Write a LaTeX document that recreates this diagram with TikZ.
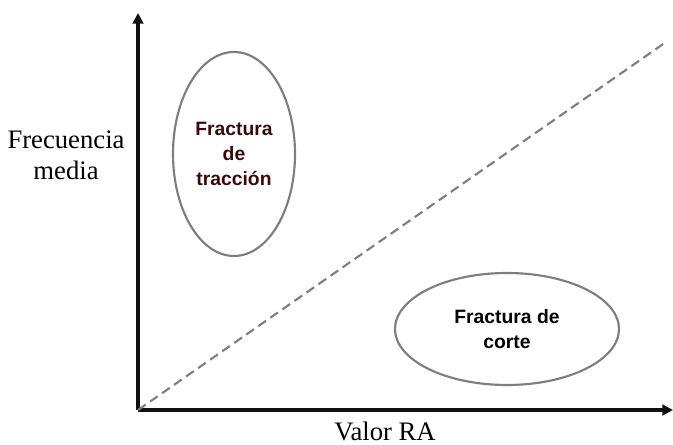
\documentclass[tikz,border=0pt]{standalone}
\usepackage{fontspec}
\setmainfont{Liberation Serif}
\setsansfont{Liberation Sans}
\usepackage{xcolor}
\usetikzlibrary{arrows.meta,shapes.geometric}
\definecolor{axisblack}{HTML}{111111}
\definecolor{rimgray}{HTML}{7E7E7E}
\definecolor{tracred}{HTML}{3A0A0A}

\begin{document}
\begin{tikzpicture}[
  x=0.75pt,y=-0.75pt,
  axis/.style={-{Triangle[length=8pt,width=8pt]},draw=axisblack,line width=2.6pt},
  zone/.style={ellipse,draw=rimgray,line width=1.6pt,inner sep=0pt,align=center,
               font=\sffamily\bfseries\fontsize{14.5}{18.8}\selectfont},
  trend/.style={draw=rimgray,line width=1.6pt,dash pattern=on 7pt off 4pt},
  lbl/.style={font=\fontsize{20}{23}\selectfont,align=center,inner sep=0pt}
]
\useasboundingbox (0,0) rectangle (673,445);

%------ axes ------------------------------------------------------------------
\coordinate (o)    at (138,410);
\coordinate (ytip) at (138,13);
\coordinate (xtip) at (673,410);
\coordinate (tend) at (666,42);
\draw[axis] (o) -- (ytip);
\draw[axis] (o) -- (xtip);

%------ trend line ------------------------------------------------------------
\draw[trend] (o) -- (tend);

%------ the two zones ---------------------------------------------------------
\node[zone,text=tracred,minimum width=91.5pt,minimum height=153pt] (trac) at (234,154)
      {Fractura\\de\\tracción};
\node[zone,minimum width=168pt,minimum height=84pt] (corte) at (507,329)
      {Fractura de\\corte};

%------ axis labels -----------------------------------------------------------
\node[lbl] (freq) at (66,155) {Frecuencia\\media};
\node[lbl] (ra)   at (385,431) {Valor RA};
\end{tikzpicture}
\end{document}
